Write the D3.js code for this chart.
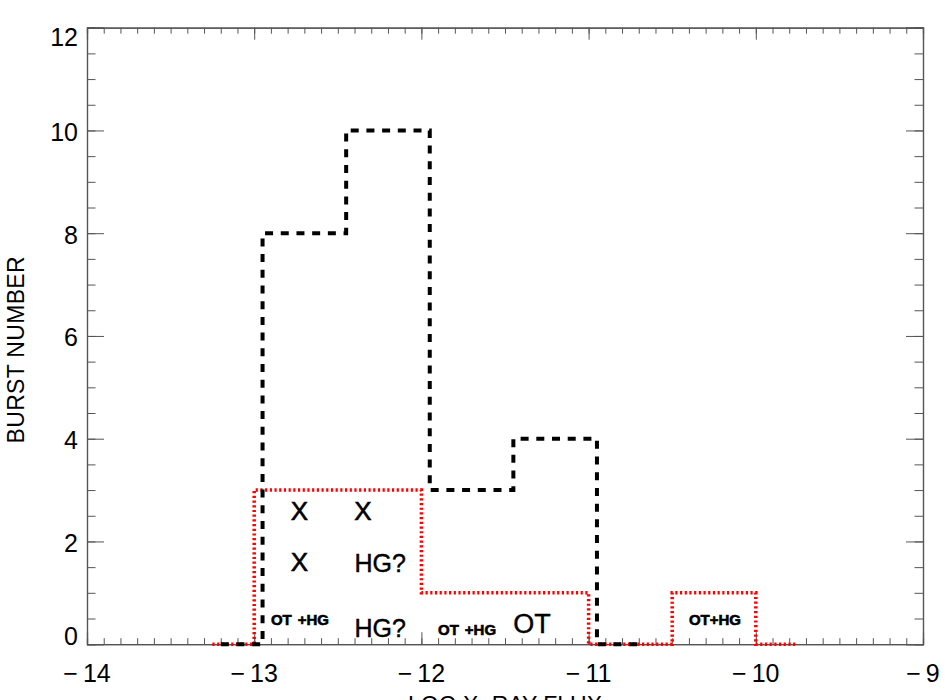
<!DOCTYPE html>
<html>
<head>
<meta charset="utf-8">
<script src="https://cdn.jsdelivr.net/npm/d3@7"></script>
<style>
  body { margin: 0; background: #fff; }
  svg { display: block; font-family: "Liberation Sans", Arial, sans-serif; }
</style>
</head>
<body>
<div id="chart"></div>
<script>
// histogram bins (psym=10 style, values at bin centres)
var allCenters = [-13.2, -12.7, -12.2, -11.7, -11.2, -10.7];
var allCounts  = [0, 8, 10, 3, 4, 0];
var subCenters = [-13.25, -12.75, -12.25, -11.75, -11.25, -10.75, -10.25, -9.75];
var subCounts  = [0, 3, 3, 1, 1, 0, 1, 0];

var xTicks = [-14, -13, -12, -11, -10, -9];
var yTicks = [0, 2, 4, 6, 8, 10, 12];

// labels written in the plot, in data units
var bigLabels   = [{t: "X", x: -12.73, y: 2.42}, {t: "X", x: -12.35, y: 2.42}, {t: "X", x: -12.73, y: 1.42}];
var leftLabels  = [{t: "HG?", x: -12.40, y: 1.41}, {t: "HG?", x: -12.40, y: 0.14}, {t: "OT", x: -11.45, y: 0.21}];
var smallLabels = [{t: "OT", x: -12.90, y: 0.37}, {t: "+HG", x: -12.74, y: 0.37},
                   {t: "OT", x: -11.90, y: 0.175}, {t: "+HG", x: -11.74, y: 0.175},
                   {t: "OT+HG", x: -10.40, y: 0.37}];

var totalWidth = 950, totalHeight = 700;
var margin = {left: 87, right: 27, top: 27.7, bottom: 55.8};
var width = totalWidth - margin.left - margin.right;
var height = totalHeight - margin.top - margin.bottom;

var svg = d3.select("#chart").append("svg")
    .attr("width", totalWidth)
    .attr("height", totalHeight);

var g = svg.append("g").attr("transform", "translate(" + margin.left + "," + margin.top + ")");

var xScale = d3.scaleLinear().domain([-14, -9]).range([0, width]);
var yScale = d3.scaleLinear().domain([0, 12]).range([height, 0]);

var axisColor = "#555";

// minor + major ticks, all four sides (IDL style box)
var xMinor = d3.range(-14, -9.0001, 0.1).map(function(v) { return Math.round(v * 10) / 10; });
var yMinor = d3.range(0, 12.0001, 0.5);

g.append("g").call(d3.axisBottom(xScale).tickValues(xMinor).tickSize(-6).tickFormat(""))
  .attr("transform", "translate(0," + height + ")").attr("class", "ax");
g.append("g").call(d3.axisBottom(xScale).tickValues(xTicks).tickSize(-12).tickFormat(""))
  .attr("transform", "translate(0," + height + ")").attr("class", "ax");
g.append("g").call(d3.axisTop(xScale).tickValues(xMinor).tickSize(-6).tickFormat("")).attr("class", "ax");
g.append("g").call(d3.axisTop(xScale).tickValues(xTicks).tickSize(-12).tickFormat("")).attr("class", "ax");

g.append("g").call(d3.axisLeft(yScale).tickValues(yMinor).tickSize(-8.5).tickFormat("")).attr("class", "ax");
g.append("g").call(d3.axisLeft(yScale).tickValues(yTicks).tickSize(-17).tickFormat("")).attr("class", "ax");
g.append("g").call(d3.axisRight(yScale).tickValues(yMinor).tickSize(-8.5).tickFormat(""))
  .attr("transform", "translate(" + width + ",0)").attr("class", "ax");
g.append("g").call(d3.axisRight(yScale).tickValues(yTicks).tickSize(-17).tickFormat(""))
  .attr("transform", "translate(" + width + ",0)").attr("class", "ax");

g.selectAll(".ax path").attr("stroke", axisColor).attr("stroke-width", 1.2);
g.selectAll(".ax line").attr("stroke", axisColor).attr("stroke-width", 1);

// tick labels
g.selectAll(".xlab").data(xTicks).enter().append("text")
  .attr("class", "xlab")
  .attr("x", function(d) { return xScale(d); })
  .attr("y", height + 38)
  .attr("text-anchor", "middle")
  .style("font-size", "25px")
  .text(function(d) { return "\u2212\u2009" + Math.abs(d); });

g.selectAll(".ylab").data(yTicks).enter().append("text")
  .attr("class", "ylab")
  .attr("x", -9)
  .attr("y", function(d) {
    var c = Math.min(Math.max(yScale(d) + 1.5, 9), height - 8);
    return c;
  })
  .attr("dy", "0.36em")
  .attr("text-anchor", "end")
  .style("font-size", "25px")
  .text(function(d) { return d; });

// axis titles
svg.append("text")
  .attr("transform", "translate(24," + (margin.top + height / 2 + 14) + ") rotate(-90)")
  .attr("text-anchor", "middle")
  .attr("textLength", 187)
  .style("font-size", "23px")
  .text("BURST NUMBER");

svg.append("text")
  .attr("x", margin.left + width / 2)
  .attr("y", 713)
  .attr("text-anchor", "middle")
  .style("font-size", "23px")
  .text("LOG X\u2212RAY FLUX");

// histograms
var stepLine = d3.line()
  .x(function(d) { return xScale(d[0]); })
  .y(function(d) { return yScale(d[1]); })
  .curve(d3.curveStep);

g.append("path")
  .datum(d3.zip(subCenters, subCounts))
  .attr("d", stepLine)
  .attr("fill", "none")
  .attr("stroke", "#ff0000")
  .attr("stroke-width", 3.5)
  .attr("stroke-dasharray", "2.2,2.5");

g.append("path")
  .datum(d3.zip(allCenters, allCounts))
  .attr("d", stepLine)
  .attr("fill", "none")
  .attr("stroke", "#000")
  .attr("stroke-width", 4)
  .attr("stroke-dasharray", "8,7.7");

// annotations
g.selectAll(".big").data(bigLabels).enter().append("text")
  .attr("class", "big")
  .attr("x", function(d) { return xScale(d.x); })
  .attr("y", function(d) { return yScale(d.y); })
  .attr("text-anchor", "middle")
  .style("font-size", "26px")
  .style("stroke", "#000")
  .style("stroke-width", 0.6)
  .text(function(d) { return d.t; });

g.selectAll(".left").data(leftLabels).enter().append("text")
  .attr("class", "left")
  .attr("x", function(d) { return xScale(d.x); })
  .attr("y", function(d) { return yScale(d.y); })
  .style("font-size", function(d) { return d.t == "OT" ? "27px" : "25px"; })
  .style("stroke", "#000")
  .style("stroke-width", 0.4)
  .text(function(d) { return d.t; });

g.selectAll(".small").data(smallLabels).enter().append("text")
  .attr("class", "small")
  .attr("x", function(d) { return xScale(d.x); })
  .attr("y", function(d) { return yScale(d.y); })
  .style("font-size", "15px")
  .style("font-weight", "bold")
  .style("stroke", "#000")
  .style("stroke-width", 0.6)
  .text(function(d) { return d.t; });
</script>
</body>
</html>
